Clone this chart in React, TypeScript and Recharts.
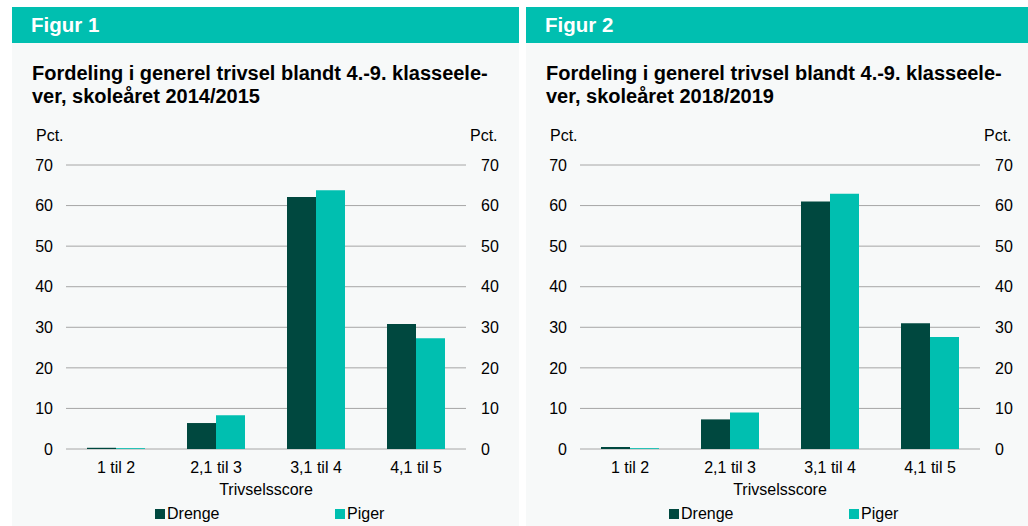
import React from 'react';
import { BarChart, Bar, XAxis, YAxis, CartesianGrid, Legend } from 'recharts';

const categories = ['1 til 2', '2,1 til 3', '3,1 til 4', '4,1 til 5'];
const drenge2015 = [0.3, 6.4, 62.1, 30.8];
const piger2015 = [0.2, 8.3, 63.8, 27.3];
const drenge2019 = [0.5, 7.3, 61.0, 31.0];
const piger2019 = [0.2, 9.0, 62.9, 27.6];
const yTicks = [0, 10, 20, 30, 40, 50, 60, 70];
const boundaryTicks = [0, 1, 2, 3, 4];

const DARK = '#00483f';
const TEAL = '#00bfb0';
const FONT = '"Liberation Sans", Arial, sans-serif';
const BG = '#f7f9f9';

const makeData = (d: number[], p: number[]) =>
  categories.map((c, i) => ({ cat: c, Drenge: d[i], Piger: p[i] }));

const LegendContent = () => (
  <div style={{ position: 'relative', height: 22, fontFamily: FONT, fontSize: 16, color: '#000' }}>
    {[
      { name: 'Drenge', color: DARK, left: 143 },
      { name: 'Piger', color: TEAL, left: 323 },
    ].map((it) => (
      <div key={it.name} style={{ position: 'absolute', left: it.left, top: 2, height: 22, display: 'flex', alignItems: 'center' }}>
        <span style={{ display: 'inline-block', width: 10, height: 10, background: it.color, marginRight: 2 }} />
        <span>{it.name}</span>
      </div>
    ))}
  </div>
);

type PanelProps = {
  left: number;
  width: number;
  fig: string;
  title1: string;
  title2: string;
  drenge: number[];
  piger: number[];
  rightAxisW: number;
};

const Panel = ({ left, width, fig, title1, title2, drenge, piger, rightAxisW }: PanelProps) => {
  const data = makeData(drenge, piger);
  const tickStyle = { fontFamily: FONT, fontSize: 16, fill: '#000' };
  return (
    <>
      <div style={{ position: 'absolute', left, top: 7, width, height: 36, background: TEAL }}>
        <div style={{ position: 'absolute', left: 19, top: 0, lineHeight: '36px', fontFamily: FONT, fontWeight: 'bold', fontSize: 20.5, color: '#fff' }}>{fig}</div>
      </div>
      <div style={{ position: 'absolute', left, top: 43, width, height: 483, background: BG }}>
        <div style={{ position: 'absolute', left: 20, top: 19, fontFamily: FONT, fontWeight: 'bold', fontSize: 20, lineHeight: '22.5px', color: '#000', whiteSpace: 'nowrap' }}>
          {title1}
          <br />
          {title2}
        </div>
        <div style={{ position: 'absolute', left: 24, top: 84, fontFamily: FONT, fontSize: 16, color: '#000' }}>Pct.</div>
        <div style={{ position: 'absolute', left: 54 + 400 + 4, top: 84, fontFamily: FONT, fontSize: 16, color: '#000' }}>Pct.</div>
        <div style={{ position: 'absolute', left: 0, top: 0 }}>
          <BarChart
            width={width}
            height={483}
            data={data}
            margin={{ top: 122, right: 0, bottom: 3, left: 0 }}
            barCategoryGap="21%"
            barGap={0}
          >
            <CartesianGrid vertical={false} stroke="#a6a6a6" strokeWidth={1} yAxisId="left" xAxisId="cat" />
            <XAxis
              xAxisId="num"
              type="number"
              domain={[0, 4]}
              allowDataOverflow
              ticks={boundaryTicks}
              height={0}
              tickSize={5}
              tickLine={{ stroke: '#333' }}
              axisLine={{ stroke: '#333' }}
              tickFormatter={() => ''}
            />
            <XAxis
              xAxisId="cat"
              dataKey="cat"
              height={52}
              tickSize={5}
              tickMargin={8}
              tickLine={false}
              axisLine={false}
              tick={tickStyle}
              interval={0}
              label={{ value: 'Trivselsscore', position: 'insideBottom', offset: 6, style: { fontFamily: FONT, fontSize: 16, fill: '#000' } }}
            />
            <YAxis
              yAxisId="left"
              width={54}
              domain={[0, 70]}
              ticks={yTicks}
              tickSize={0}
              tickMargin={13}
              axisLine={false}
              tickLine={false}
              tick={tickStyle}
            />
            <YAxis
              yAxisId="right"
              orientation="right"
              width={rightAxisW}
              type="number"
              domain={[0, 70]}
              allowDataOverflow
              ticks={yTicks}
              tickSize={0}
              tickMargin={15}
              axisLine={false}
              tickLine={false}
              tick={tickStyle}
            />
            <Legend verticalAlign="bottom" content={<LegendContent />} />
            <Bar xAxisId="cat" yAxisId="left" dataKey="Drenge" fill={DARK} isAnimationActive={false} />
            <Bar xAxisId="cat" yAxisId="left" dataKey="Piger" fill={TEAL} isAnimationActive={false} />
          </BarChart>
        </div>
      </div>
    </>
  );
};

export default function App() {
  return (
    <div style={{ position: 'absolute', left: 0, top: 0, width: 1028, height: 526, background: '#fff', overflow: 'hidden' }}>
      <Panel
        left={12}
        width={507}
        fig="Figur 1"
        title1="Fordeling i generel trivsel blandt 4.-9. klasseele-"
        title2="ver, skoleåret 2014/2015"
        drenge={drenge2015}
        piger={piger2015}
        rightAxisW={53}
      />
      <Panel
        left={526}
        width={502}
        fig="Figur 2"
        title1="Fordeling i generel trivsel blandt 4.-9. klasseele-"
        title2="ver, skoleåret 2018/2019"
        drenge={drenge2019}
        piger={piger2019}
        rightAxisW={48}
      />
    </div>
  );
}
